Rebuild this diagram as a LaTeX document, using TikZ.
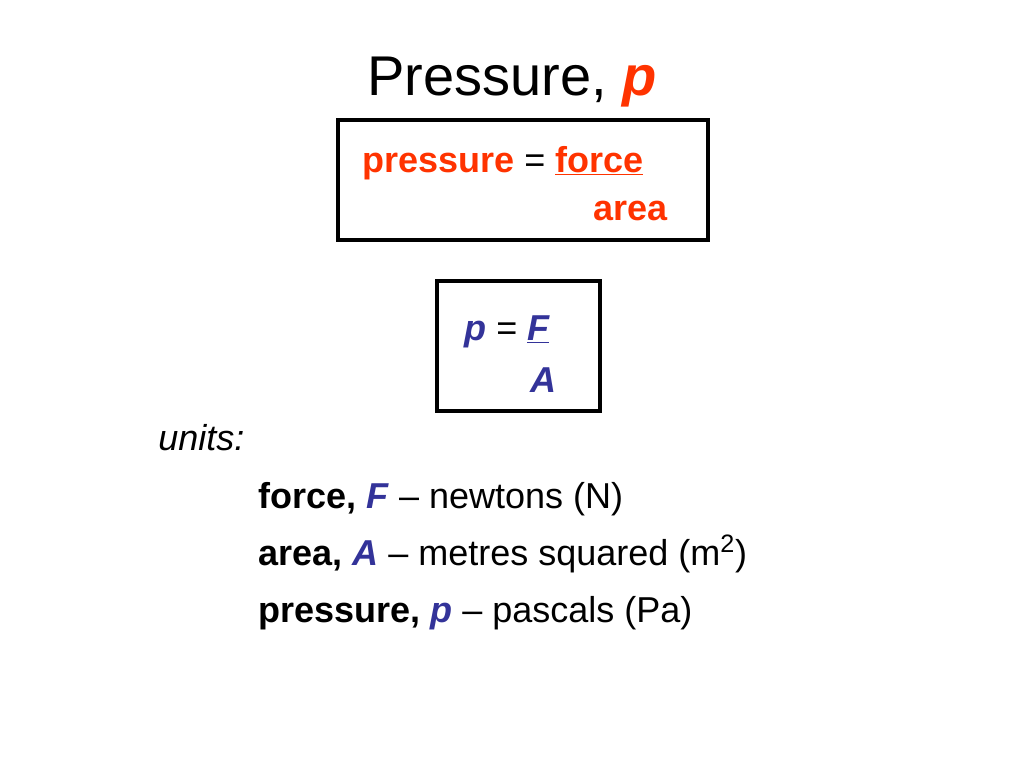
\documentclass[tikz,border=0pt]{standalone}
\usepackage{fontspec}
\setmainfont{Liberation Sans}
\definecolor{ored}{HTML}{FF3300}
\definecolor{dblue}{HTML}{333399}
\begin{document}
\begin{tikzpicture}[x=0.75pt,y=-0.75pt,
  txt/.style={inner sep=0pt,anchor=base west,font=\fontsize{27}{32}\selectfont},
  frame/.style={draw=black,line width=2.3pt}]
\useasboundingbox (0,0) rectangle (1024,768);
\node[inner sep=0pt,anchor=base,font=\fontsize{42}{48}\selectfont] (title) at (512,95) {Pressure, \textcolor{ored}{\textbf{\textit{p}}}};
\draw[frame] (338,120) rectangle (708,240);
\node[txt] (eq1) at (362,172) {\textcolor{ored}{\textbf{pressure}} = \textcolor{ored}{\textbf{\underline{force}}}};
\node[txt,anchor=base east] (area) at (668,220) {\textcolor{ored}{\textbf{area}}};
\draw[frame] (437,281) rectangle (600,411);
\node[txt] (eq2) at (464,340) {\textcolor{dblue}{\textbf{\textit{p}}} = \textcolor{dblue}{\textbf{\textit{\underline{F}}}}};
\node[txt] (A) at (530,392) {\textcolor{dblue}{\textbf{\textit{A}}}};
\node[txt] (units) at (158,450) {\textit{units:}};
\node[txt] (l1) at (258,508) {\textbf{force,} \textcolor{dblue}{\textbf{\textit{F}}} -- newtons (N)};
\node[txt] (l2) at (258,565) {\textbf{area,} \textcolor{dblue}{\textbf{\textit{A}}} -- metres squared (m\textsuperscript{2})};
\node[txt] (l3) at (258,622) {\textbf{pressure,} \textcolor{dblue}{\textbf{\textit{p}}} -- pascals (Pa)};
\end{tikzpicture}
\end{document}
